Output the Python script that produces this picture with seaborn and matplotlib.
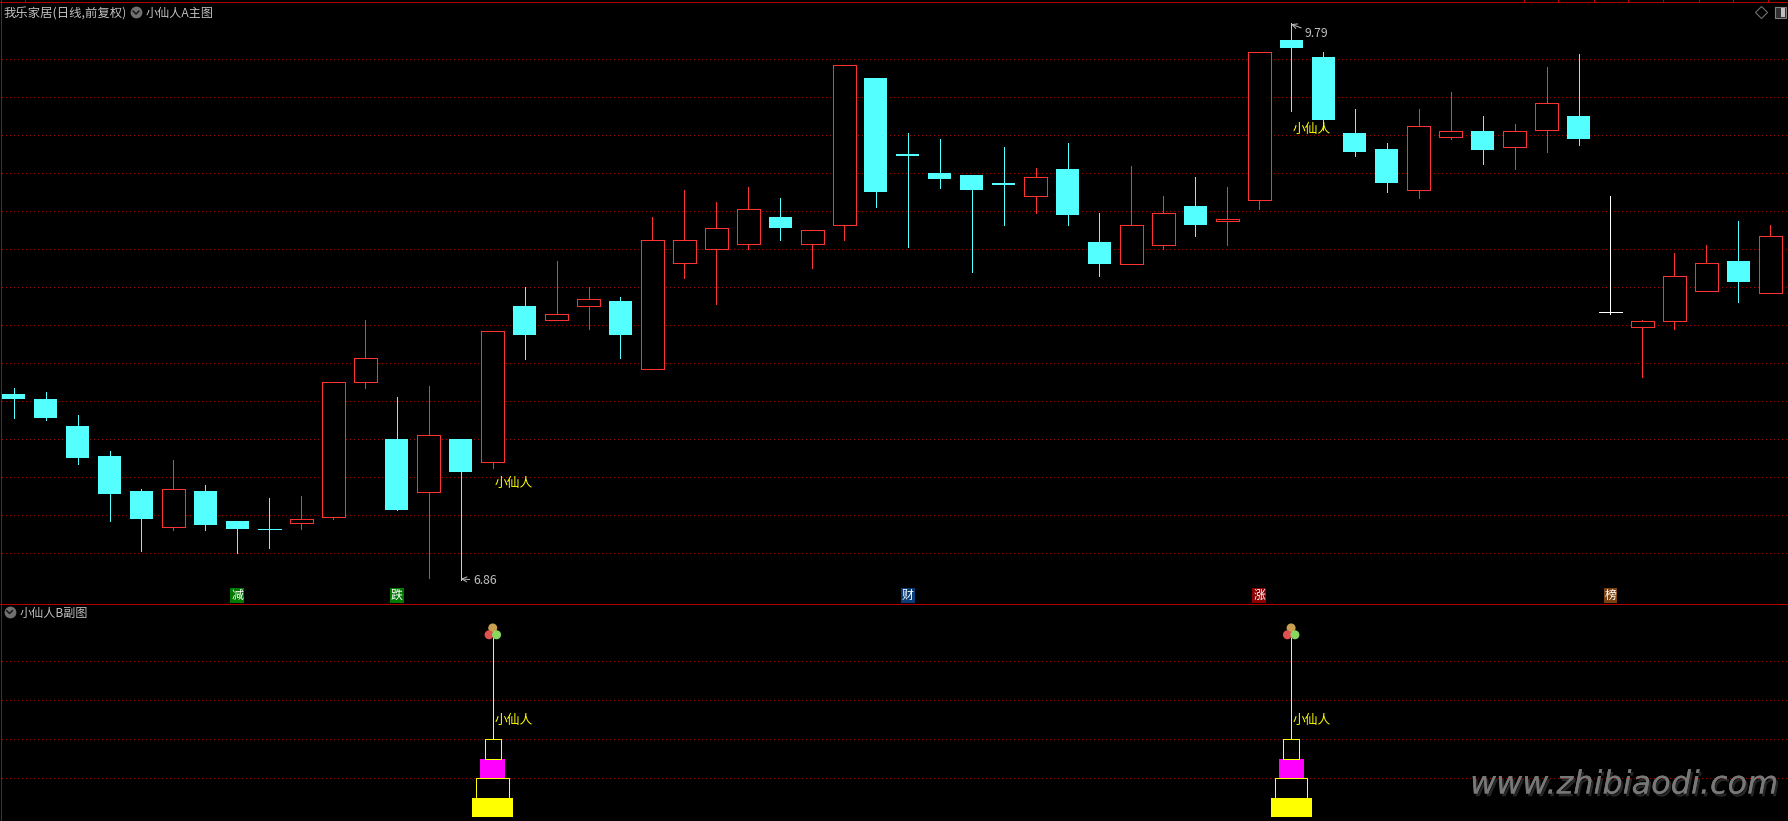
import matplotlib
matplotlib.use("Agg")
import matplotlib.pyplot as plt
from matplotlib.lines import Line2D
from matplotlib.patches import Rectangle
import matplotlib.patheffects as pe
import numpy as np
import pandas as pd
import seaborn as sns

# Daily prices (one value per candle)
opens = [7.84, 7.81, 7.67, 7.51, 7.33, 7.14, 7.33, 7.17, 7.13, 7.16,
         7.19, 7.90, 7.60, 7.32, 7.60, 7.48, 8.30, 8.23, 8.30, 8.33,
         7.97, 8.53, 8.60, 8.63, 8.77, 8.63, 8.73, 9.50, 9.10, 9.00,
         8.99, 8.95, 8.88, 9.02, 8.64, 8.52, 8.62, 8.83, 8.75, 8.86,
         9.70, 9.61, 9.21, 9.13, 8.91, 9.19, 9.22, 9.14, 9.23, 9.30,
         8.27, 8.19, 8.22, 8.38, 8.54, 8.37]
closes = [7.81, 7.71, 7.50, 7.31, 7.18, 7.34, 7.15, 7.13, 7.13, 7.18,
          7.90, 8.03, 7.23, 7.62, 7.43, 8.17, 8.15, 8.26, 8.34, 8.15,
          8.65, 8.65, 8.71, 8.81, 8.71, 8.70, 9.57, 8.90, 9.09, 8.97,
          8.91, 8.94, 8.98, 8.78, 8.52, 8.73, 8.79, 8.73, 8.76, 9.64,
          9.66, 9.28, 9.11, 8.95, 9.25, 9.22, 9.12, 9.22, 9.37, 9.18,
          8.27, 8.22, 8.46, 8.53, 8.43, 8.67]
highs = [7.87, 7.85, 7.73, 7.54, 7.34, 7.49, 7.36, 7.17, 7.29, 7.30,
         7.90, 8.23, 7.82, 7.88, 7.60, 8.17, 8.40, 8.54, 8.40, 8.35,
         8.77, 8.91, 8.85, 8.93, 8.87, 8.70, 9.57, 9.50, 9.21, 9.18,
         8.99, 9.14, 9.03, 9.16, 8.79, 9.04, 8.88, 8.98, 8.93, 9.64,
         9.79, 9.64, 9.34, 9.16, 9.34, 9.43, 9.30, 9.26, 9.56, 9.63,
         8.88, 8.23, 8.58, 8.62, 8.75, 8.73]
lows = [7.71, 7.70, 7.47, 7.17, 7.01, 7.12, 7.12, 7.00, 7.03, 7.13,
        7.18, 7.87, 7.23, 6.87, 6.86, 7.45, 8.02, 8.23, 8.18, 8.03,
        7.97, 8.45, 8.31, 8.60, 8.65, 8.50, 8.65, 8.82, 8.61, 8.92,
        8.48, 8.73, 8.79, 8.73, 8.46, 8.52, 8.60, 8.67, 8.62, 8.81,
        9.33, 9.23, 9.09, 8.90, 8.87, 9.18, 9.05, 9.02, 9.11, 9.15,
        8.26, 7.93, 8.18, 8.38, 8.32, 8.37]
white_candle = 50

price_grid = [7.0, 7.2, 7.4, 7.6, 7.8, 8.0, 8.2, 8.4, 8.6, 8.8, 9.0, 9.2, 9.4, 9.6]
sub_grid = [2, 4, 6, 8]

# lower panel: signal days and the stacked blocks
signal_days = [15, 40]
block_low = [0, 1, 2, 3]
block_high = [1, 2, 3, 4]
block_width = [1.28, 1.02, 0.78, 0.51]
block_fill = ["#FFFF00", "#000000", "#FF00FF", "#000000"]
stem_top = 9.2

stamp_days = [7, 12, 28, 39, 50]
stamp_text = ["减", "跌", "财", "涨", "榜"]
stamp_color = ["#007A00", "#007A00", "#0A3C78", "#8C0000", "#7A4210"]

title_main = "我乐家居(日线,前复权)"
title_a = "小仙人A主图"
title_b = "小仙人B副图"
signal_name = "小仙人"
site = "www.zhibiaodi.com"

CYAN = "#54FFFF"
RED = "#FF3232"
GRID = "#A00000"
FRAME = "#B40000"
TEXT = "#C0C0C0"

sns.set_theme(style="dark", rc={"axes.facecolor": "black", "figure.facecolor": "black"})
plt.rcParams["font.family"] = ["Noto Sans CJK SC", "DejaVu Sans"]

W, H = 1788, 821
SPLIT = 603
fig = plt.figure(figsize=(W / 100, H / 100), dpi=100)
ax = fig.add_axes([0, (H - SPLIT) / H, 1, SPLIT / H])
sub = fig.add_axes([0, 0, 1, (H - SPLIT) / H])


def fx(px):
    return px / W


def fy(py):
    return 1 - py / H


n = len(opens)
days = np.arange(n)
colors = []
for i in days:
    if i == white_candle:
        colors.append("#FFFFFF")
    elif closes[i] > opens[i]:
        colors.append(RED)
    else:
        colors.append(CYAN)

for a in (ax, sub):
    a.set_xlim(-0.43, 55.56)
    a.set_xticks([])
    a.set_yticks([])
    a.grid(False)
    for s in a.spines.values():
        s.set_visible(False)
ax.set_ylim(6.738, 9.912)
sub.set_ylim(-0.18, 11)

dots = (0, (1, 3))
for p in price_grid:
    ax.plot([-0.36, 55.56], [p, p], color=GRID, lw=0.72, ls=dots, aa=False, zorder=1)
for p in sub_grid:
    sub.plot([-0.36, 55.56], [p, p], color=GRID, lw=0.72, ls=dots, aa=False, zorder=1)

# wicks, one line per candle
wicks = pd.DataFrame({
    "day": np.r_[days, days],
    "price": np.r_[lows, highs],
    "color": colors + colors,
})
sns.lineplot(data=wicks, x="day", y="price", units="day", estimator=None, hue="color",
             palette={c: c for c in set(colors)}, lw=0.72, legend=False, ax=ax,
             antialiased=False, zorder=2)
ax.set_xlabel("")
ax.set_ylabel("")

# candle bodies
body_w = 0.72
for i in days:
    lo, hi = min(opens[i], closes[i]), max(opens[i], closes[i])
    if hi == lo:
        ax.plot([i - body_w / 2, i + body_w / 2], [lo, lo], color=colors[i], lw=0.72, aa=False, zorder=3)
    elif colors[i] == RED:
        ax.bar(i, hi - lo, bottom=lo, width=body_w, facecolor="black", edgecolor=RED,
               linewidth=0.72, antialiased=False, zorder=3)
    else:
        ax.bar(i, hi - lo, bottom=lo, width=body_w, color=colors[i], linewidth=0,
               antialiased=False, zorder=3)

# high / low callouts
ax.annotate("9.79", xy=(40, 9.785), xytext=(40.42, 9.735), color=TEXT, fontsize=8.8, va="center",
            arrowprops=dict(arrowstyle="->", color=TEXT, lw=0.7, shrinkA=0, shrinkB=0))
ax.annotate("6.86", xy=(14, 6.865), xytext=(14.38, 6.855), color=TEXT, fontsize=8.8, va="center",
            arrowprops=dict(arrowstyle="->", color=TEXT, lw=0.7, shrinkA=0, shrinkB=0))

ax.text(15.07, 7.368, signal_name, color="#FFFF00", fontsize=9.2, va="center", zorder=6)
ax.text(40.05, 9.228, signal_name, color="#FFFF00", fontsize=9.2, va="center", zorder=6)

for d, t, c in zip(stamp_days, stamp_text, stamp_color):
    ax.text(d, 6.778, t, color="white", fontsize=8.6, ha="center", va="center", zorder=6,
            bbox=dict(boxstyle="square,pad=0.08", fc=c, ec="none"))

# lower panel
for d in signal_days:
    stem = pd.DataFrame({"day": [d, d], "value": [block_high[-1], stem_top]})
    sns.lineplot(data=stem, x="day", y="value", color="#FFFF00", lw=0.72, estimator=None,
                 sort=False, ax=sub, antialiased=False, zorder=2)
    for lo, hi, w, f in zip(block_low, block_high, block_width, block_fill):
        sub.bar(d, hi - lo, bottom=lo, width=w, facecolor=f,
                edgecolor="#FFFF00" if f == "#000000" else f,
                linewidth=0.72 if f == "#000000" else 0,
                antialiased=False, zorder=3)
    balls = pd.DataFrame({"day": [d, d - 0.115, d + 0.12], "value": [9.72, 9.37, 9.37],
                          "tone": ["top", "left", "right"]})
    sns.scatterplot(data=balls, x="day", y="value", hue="tone",
                    palette={"top": "#C8A050", "left": "#E05050", "right": "#88D860"},
                    s=42, linewidth=0, legend=False, ax=sub, zorder=4)
    sub.text(d + 0.05, 4.95, signal_name, color="#FFFF00", fontsize=9.2, va="center", zorder=6)
sub.set_xlabel("")
sub.set_ylabel("")

# titles and window chrome
fig.text(fx(4), fy(13.5), title_main, color=TEXT, fontsize=8.9, va="center")
fig.text(fx(146), fy(13.5), title_a, color=TEXT, fontsize=8.7, va="center")
fig.text(fx(20), fy(613), title_b, color=TEXT, fontsize=8.7, va="center")


def round_button(px, py):
    fig.add_artist(Line2D([fx(px)], [fy(py)], marker="o", ms=8.5, mfc="#707070", mec="none",
                          transform=fig.transFigure))
    fig.add_artist(Line2D([fx(px - 3), fx(px), fx(px + 3)], [fy(py - 1.5), fy(py + 1.5), fy(py - 1.5)],
                          color="#181818", lw=1.1, transform=fig.transFigure))


round_button(136, 12.5)
round_button(9.5, 612)

fig.add_artist(Line2D([fx(1761)], [fy(12.5)], marker="D", ms=6, mfc="none", mec="#707070", mew=0.8,
                      transform=fig.transFigure))
fig.add_artist(Rectangle((fx(1775), fy(18)), 11 / W, 11 / H, fc="#303030", ec="#808080", lw=0.8,
                         transform=fig.transFigure))
fig.add_artist(Rectangle((fx(1781), fy(17)), 4 / W, 9 / H, fc="#C0C0C0", ec="none",
                         transform=fig.transFigure))

# frame lines
fig.add_artist(Line2D([0, 1], [fy(2.5), fy(2.5)], color=FRAME, lw=0.72, aa=False, transform=fig.transFigure))
fig.add_artist(Line2D([0, 1], [fy(603.5), fy(603.5)], color=FRAME, lw=0.72, aa=False, transform=fig.transFigure))
fig.add_artist(Line2D([fx(1), fx(1)], [0, 1], color=FRAME, lw=0.72, aa=False, transform=fig.transFigure))
for px in [25, 1524, 1558, 1594, 1628, 1663, 1699, 1733, 1768]:
    fig.add_artist(Line2D([fx(px), fx(px)], [fy(0), fy(2)], color=FRAME, lw=0.72, aa=False,
                          transform=fig.transFigure))

wm = fig.text(fx(1470), fy(785), site, color="#787878", fontsize=23, style="italic",
              family="DejaVu Sans", va="center", ha="left")
wm.set_path_effects([pe.withSimplePatchShadow(offset=(1.5, -2), shadow_rgbFace="#303030", alpha=0.8), pe.Normal()])

fig.savefig("out.png", dpi=100, facecolor="black")
